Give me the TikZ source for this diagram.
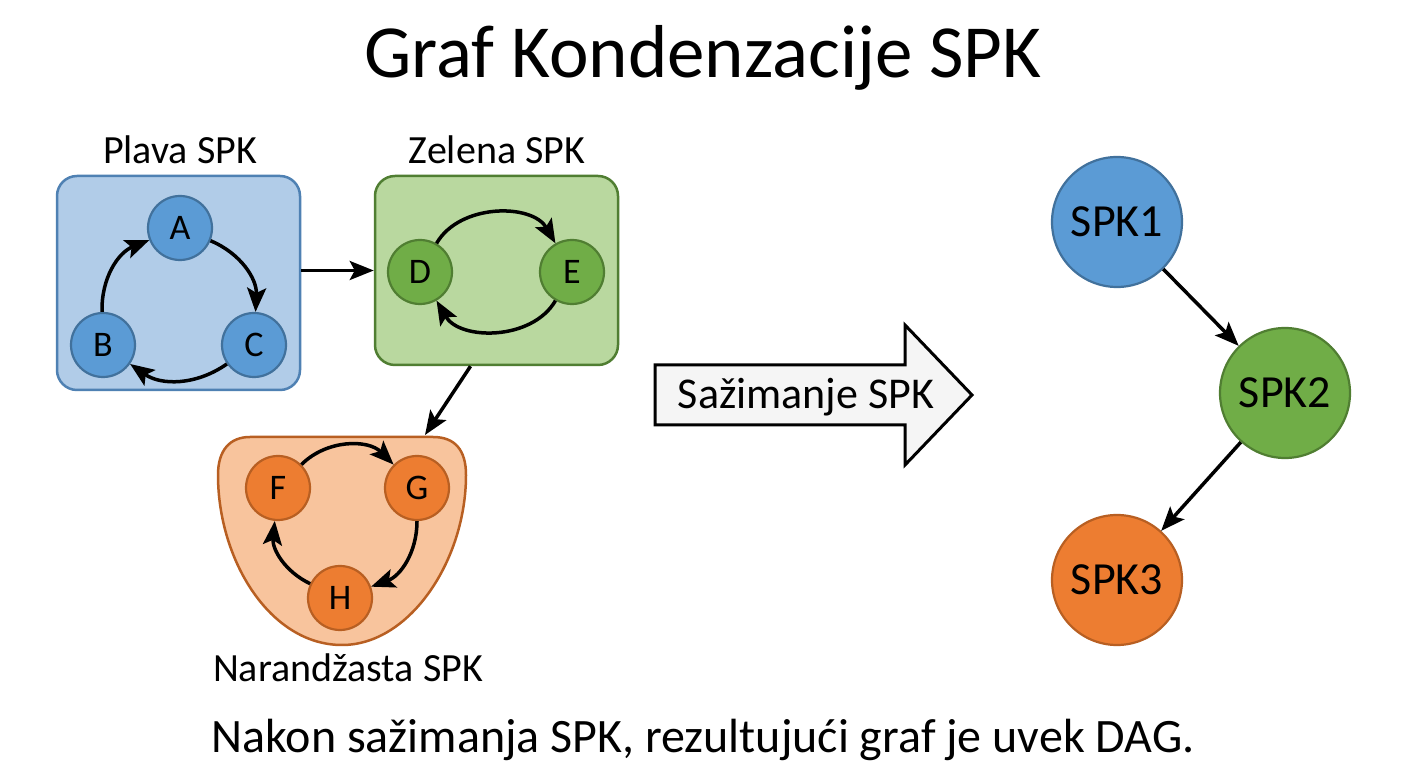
\documentclass[tikz,border=0pt]{standalone}
\usepackage{fontspec}
\setmainfont{Carlito}
\usetikzlibrary{arrows.meta,positioning}

\definecolor{bluenode}{HTML}{5B9BD5}
\definecolor{blueline}{HTML}{41719C}
\definecolor{bluebox}{HTML}{B1CCE8}
\definecolor{boxline}{HTML}{4F81B3}
\definecolor{greennode}{HTML}{70AD47}
\definecolor{greenline}{HTML}{507E32}
\definecolor{greenbox}{HTML}{B9D89F}
\definecolor{orangenode}{HTML}{ED7D31}
\definecolor{orangeline}{HTML}{B85F22}
\definecolor{orangebox}{HTML}{F8C49D}

\tikzset{
    vert/.style={circle, draw, line width=2.2pt, minimum size=64pt, inner sep=0pt, font=\fontsize{36}{36}\selectfont},
    comp/.style={circle, draw, line width=2.2pt, minimum size=130pt, inner sep=0pt, font=\fontsize{46}{46}\selectfont},
    group/.style={rectangle, draw, rounded corners=20pt, line width=2.5pt},
    link/.style={-{Stealth[length=24pt,width=19pt,inset=5pt]}, line width=3.5pt},
    label/.style={font=\fontsize{40}{40}\selectfont}
}

\begin{document}
\begin{tikzpicture}[x=1pt,y=1pt]
    \useasboundingbox[fill=white] (0,0) rectangle (1408,768);

    \node[font=\fontsize{75}{75}\selectfont] (title) at (703,710) {Graf Kondenzacije SPK};

    % groups
    \node[group, fill=bluebox, draw=boxline, minimum width=243pt, minimum height=214pt] (blue) at (178.5,485) {};
    \node[group, fill=greenbox, draw=greenline, minimum width=243pt, minimum height=189pt] (green) at (496.5,497.5) {};
    \draw[fill=orangebox, draw=orangeline, line width=2.5pt] (250,331) -- (433,331)
        .. controls (455,331) and (466,318) .. (466,293)
        .. controls (466,208) and (410,123) .. (342,123)
        .. controls (270,123) and (218,208) .. (218,293)
        .. controls (218,318) and (230,331) .. (250,331) -- cycle;
    \coordinate (orangein) at (425,333);

    \node[label] (bluelabel) at (180,618) {Plava SPK};
    \node[label] (greenlabel) at (497,618) {Zelena SPK};
    \node[label] (orangelabel) at (348,100) {Narandžasta SPK};

    % vertices
    \node[vert, fill=bluenode, draw=blueline] (A) at (180,540) {A};
    \node[vert, fill=bluenode, draw=blueline] (B) at (103,423) {B};
    \node[vert, fill=bluenode, draw=blueline] (C) at (254,423) {C};
    \node[vert, fill=greennode, draw=greenline] (D) at (420,496) {D};
    \node[vert, fill=greennode, draw=greenline] (E) at (572,496) {E};
    \node[vert, fill=orangenode, draw=orangeline] (F) at (278,280) {F};
    \node[vert, fill=orangenode, draw=orangeline] (G) at (417,280) {G};
    \node[vert, fill=orangenode, draw=orangeline] (H) at (340,170) {H};

    \draw[link] (B) to[bend left=35] (A);
    \draw[link] (A) to[bend left=35] (C);
    \draw[link] (C) to[bend left=35] (B);
    \draw[link] (D) to[bend left=60] (E);
    \draw[link] (E) to[bend left=60] (D);
    \draw[link] (F) to[bend left=45] (G);
    \draw[link] (G) to[bend left=35] (H);
    \draw[link] (H) to[bend left=35] (F);

    \draw[link] (blue.east |- green.west) -- (green.west);
    \draw[link] ([xshift=-26pt]green.south) -- (orangein);

    % condensation arrow
    \draw[fill=gray!8, line width=3pt, line join=miter] (655,403) -- (905,403) -- (905,443) -- (972,373)
        -- (905,303) -- (905,343) -- (655,343) -- cycle;
    \node[font=\fontsize{44}{44}\selectfont] (squash) at (806,371) {Sažimanje SPK};

    % condensed graph
    \node[comp, fill=bluenode, draw=blueline] (spk1) at (1117,546) {SPK1};
    \node[comp, fill=greennode, draw=greenline] (spk2) at (1285,375) {SPK2};
    \node[comp, fill=orangenode, draw=orangeline] (spk3) at (1117,188) {SPK3};
    \draw[link] (spk1) -- (spk2);
    \draw[link] (spk2) -- (spk3);

    \node[font=\fontsize{48}{48}\selectfont] (note) at (703,28) {Nakon sažimanja SPK, rezultujući graf je uvek DAG.};
\end{tikzpicture}
\end{document}
